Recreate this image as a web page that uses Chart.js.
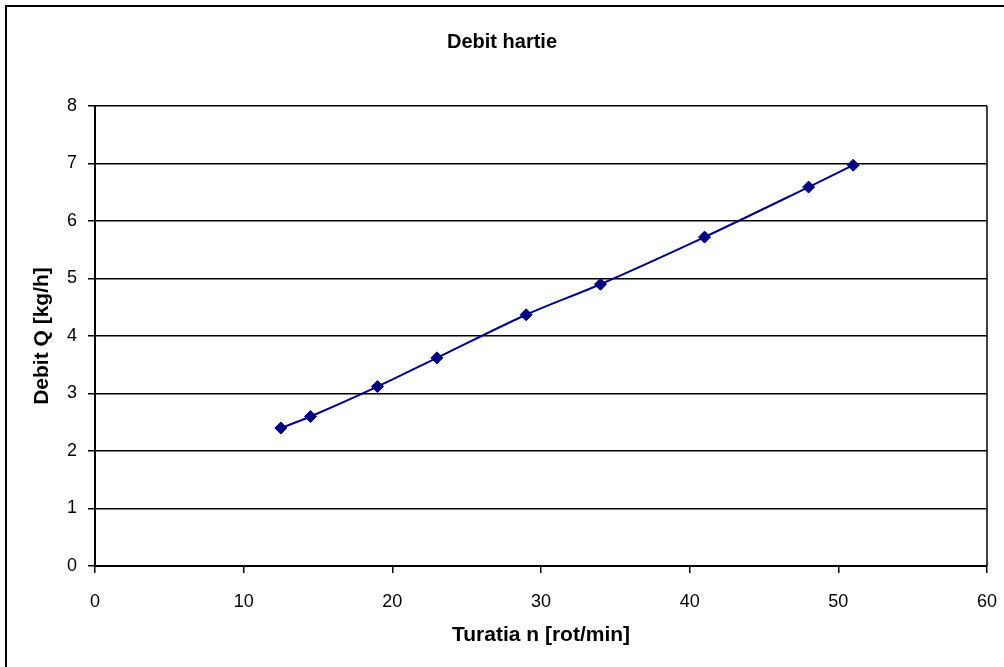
<!DOCTYPE html>
<html>
<head>
<meta charset="utf-8">
<style>
  html, body { margin: 0; padding: 0; background: #fff; }
  canvas { display: block; }
</style>
<script src="https://cdn.jsdelivr.net/npm/chart.js@4/dist/chart.umd.min.js"></script>
</head>
<body>
<canvas id="c" width="1004" height="667"></canvas>
<script>
// Paper throughput versus drum speed
const turatia = [12.5, 14.5, 19, 23, 29, 34, 41, 48, 51];       // n [rot/min]
const debit   = [2.4, 2.6, 3.12, 3.62, 4.37, 4.9, 5.72, 6.59, 6.97]; // Q [kg/h]

const xTicks = [0, 10, 20, 30, 40, 50, 60];
const yTicks = [0, 1, 2, 3, 4, 5, 6, 7, 8];

const FONT = "'Liberation Sans', Arial, sans-serif";

// Outer frame of the chart sheet and the box round the plot area
const framePlugin = {
  id: 'frame',
  beforeDraw(chart) {
    const ctx = chart.ctx;
    ctx.save();
    ctx.fillStyle = '#fff';
    ctx.fillRect(0, 0, chart.width, chart.height);
    ctx.strokeStyle = '#000';
    ctx.lineWidth = 2;
    ctx.beginPath();
    ctx.moveTo(6, chart.height);
    ctx.lineTo(6, 6);
    ctx.lineTo(chart.width, 6);
    ctx.stroke();
    ctx.restore();
  },
  beforeDatasetsDraw(chart) {
    const {ctx, chartArea: a} = chart;
    ctx.save();
    ctx.strokeStyle = '#000';
    ctx.lineWidth = 1.5;
    ctx.beginPath();
    ctx.moveTo(a.right, a.top);
    ctx.lineTo(a.right, a.bottom);
    ctx.stroke();
    ctx.restore();
  }
};

new Chart(document.getElementById('c'), {
  type: 'scatter',
  data: {
    datasets: [{
      label: 'Debit Q',
      data: turatia.map((n, i) => ({x: n, y: debit[i]})),
      showLine: true,
      tension: 0.3,
      borderColor: '#000080',
      backgroundColor: '#000080',
      borderWidth: 2,
      pointStyle: 'rectRot',
      pointRadius: 6,
      pointHoverRadius: 6,
      pointBorderWidth: 1
    }]
  },
  options: {
    responsive: false,
    animation: false,
    layout: { padding: { left: 0, right: 0, top: 0, bottom: 0 } },
    plugins: {
      legend: { display: false },
      tooltip: { enabled: false },
      title: {
        display: true,
        text: 'Debit hartie',
        color: '#000',
        font: { family: FONT, size: 20, weight: 'bold' },
        padding: { top: 30, bottom: 52 }
      }
    },
    scales: {
      x: {
        type: 'linear',
        min: xTicks[0],
        max: xTicks[xTicks.length - 1],
        afterBuildTicks: s => { s.ticks = xTicks.map(v => ({value: v})); },
        // keep 17px free on the right of the plot for the last tick label
        afterFit: s => { s.height = 101; s.paddingLeft = 0; s.paddingRight = 17; },
        grid: {
          drawOnChartArea: false,
          drawTicks: true,
          tickLength: 7,
          color: '#000',
          lineWidth: 1.5
        },
        border: { display: true, color: '#000', width: 2 },
        ticks: {
          color: '#000',
          padding: 18,
          font: { family: FONT, size: 18 }
        },
        title: {
          display: true,
          text: 'Turatia n [rot/min]',
          color: '#000',
          font: { family: FONT, size: 21, weight: 'bold' },
          padding: { top: 0, bottom: 19.4 }
        }
      },
      y: {
        type: 'linear',
        min: yTicks[0],
        max: yTicks[yTicks.length - 1],
        afterBuildTicks: s => { s.ticks = yTicks.map(v => ({value: v})); },
        afterFit: s => { s.width = 95; s.paddingTop = 0; s.paddingBottom = 0; },
        grid: {
          drawOnChartArea: true,
          drawTicks: true,
          tickLength: 7,
          color: '#000',
          lineWidth: 1.5
        },
        border: { display: true, color: '#000', width: 2 },
        ticks: {
          color: '#000',
          padding: 11,
          font: { family: FONT, size: 18 }
        },
        title: {
          display: true,
          text: 'Debit Q [kg/h]',
          color: '#000',
          font: { family: FONT, size: 21, weight: 'bold' },
          padding: { top: 29.4, bottom: 0 }
        }
      }
    }
  },
  plugins: [framePlugin]
});
</script>
</body>
</html>
